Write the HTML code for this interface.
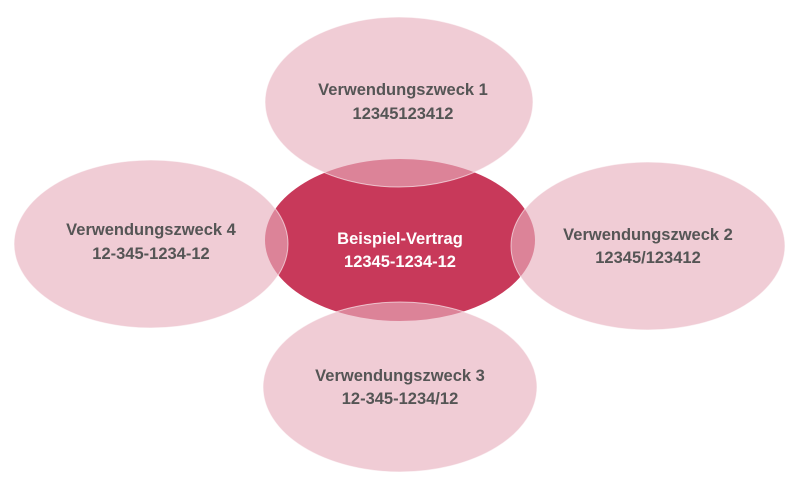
<!DOCTYPE html>
<html><head><meta charset="utf-8"><style>
html,body{margin:0;padding:0;background:#fff;}
svg{display:block;}
text{font-family:"Liberation Sans",sans-serif;font-weight:bold;font-size:16.5px;text-anchor:middle;}
</style></head><body>
<svg width="800" height="491" viewBox="0 0 800 491">
<ellipse cx="400" cy="240" rx="135" ry="81" fill="#c8395a"/>
<g fill="rgba(231,175,189,0.63)" stroke="rgba(255,255,255,0.6)" stroke-width="1">
<ellipse cx="399" cy="102" rx="134" ry="85"/>
<ellipse cx="151" cy="244" rx="137" ry="84"/>
<ellipse cx="648" cy="246" rx="137" ry="84"/>
<ellipse cx="400" cy="387" rx="137" ry="85"/>
</g>
<g fill="#555">
<text x="403" y="95">Verwendungszweck 1</text>
<text x="403" y="119">12345123412</text>
<text x="151" y="235">Verwendungszweck 4</text>
<text x="151" y="259">12-345-1234-12</text>
<text x="648" y="240">Verwendungszweck 2</text>
<text x="648" y="263">12345/123412</text>
<text x="400" y="381">Verwendungszweck 3</text>
<text x="400" y="404">12-345-1234/12</text>
</g>
<g fill="#fff">
<text x="400" y="244">Beispiel-Vertrag</text>
<text x="400" y="267">12345-1234-12</text>
</g>
</svg>
</body></html>
